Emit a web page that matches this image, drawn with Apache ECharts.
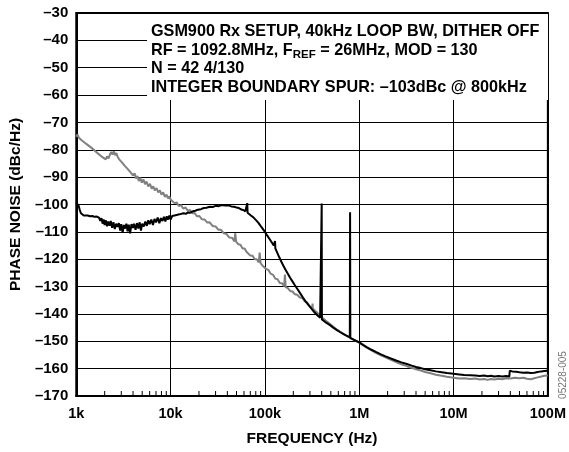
<!DOCTYPE html>
<html>
<head>
<meta charset="utf-8">
<script src="https://cdn.jsdelivr.net/npm/echarts@6/dist/echarts.min.js"></script>
<style>
html,body{margin:0;padding:0;background:#fff;}
#chart{width:569px;height:452px;}
</style>
</head>
<body>
<div id="chart"></div>
<script>
// ---- data ----
const xTickValues = [1e3, 1e4, 1e5, 1e6, 1e7, 1e8];
const xTickLabels = ['1k', '10k', '100k', '1M', '10M', '100M'];
const yMin = -170, yMax = -30, yStep = 10;
const minorTicks = [
  2e3,3e3,4e3,5e3,6e3,7e3,8e3,9e3,
  2e4,3e4,4e4,5e4,6e4,7e4,8e4,9e4,
  2e5,3e5,4e5,5e5,6e5,7e5,8e5,9e5,
  2e6,3e6,4e6,5e6,6e6,7e6,8e6,9e6,
  2e7,3e7,4e7,5e7,6e7,7e7,8e7,9e7
];

const greyFreq = [1000,1030,1060,1100,1140,1180,1230,1280,1330,1390,1450,1510,1580,1650,1720,1800,1880,1960,2050,2120,2200,2280,2350,2420,2500,2580,2660,2750,2850,2950,3050,3150,3250,3380,3500,3620,3750,3880,4000,4150,4300,4450,4600,4780,4950,5150,5350,5550,5800,6050,6300,6550,6800,7100,7400,7700,8000,8350,8700,9050,9400,9700,10000,10500,11000,11600,12200,12900,13600,14400,15200,16100,17000,18000,19000,20200,21500,23000,24500,26000,28000,30000,32000,34000,36500,39000,42000,45000,47500,48500,49500,52000,55000,58000,61000,64000,67000,70000,74000,78000,82000,86000,88000,90000,94000,98000,103000,109000,115000,122000,129000,136000,144000,152000,160000,163000,166000,175000,185000,196000,208000,220000,235000,250000,265000,280000,300000,318000,320000,322000,340000,360000,385000,410000,440000,480000,520000,570000,620000,680000,740000,800000,870000,940000,1000000,1100000,1200000,1350000,1500000,1700000,1900000,2200000,2500000,2800000,3200000,3600000,4000000,4500000,5000000,5700000,6500000,7500000,8500000,10000000,11500000,13000000,15000000,17000000,19000000,21000000,23000000,25000000,27000000,30000000,33000000,36000000,40000000,45000000,50000000,55000000,60000000,66000000,72000000,78000000,85000000,92000000,100000000];
const greyDb = [-75.2,-74.4,-75.5,-75,-76.5,-76,-77.4,-77,-78.3,-78,-79.3,-79,-80.4,-80.2,-81.5,-81.3,-82.6,-82.2,-83.5,-82.4,-83.2,-81.6,-80.8,-81.8,-80.6,-82,-81.2,-82.6,-83.5,-83,-84.6,-84.2,-85.8,-85.5,-87,-86.6,-88.2,-87.8,-89.4,-88.6,-90.5,-89.6,-91.4,-90.2,-92,-90.8,-92.6,-91.6,-93.4,-92.4,-94.2,-93.4,-94.8,-94,-95.6,-94.8,-96.4,-95.6,-97.2,-96.4,-97.8,-97,-98.2,-98.1,-99.5,-99.2,-100.6,-100.2,-101.5,-101.1,-102.3,-102,-103.2,-103.1,-104.3,-104.2,-105.4,-105.5,-106.6,-106.5,-107.9,-108,-109.2,-109.2,-110.5,-110.7,-112.1,-112.2,-113.5,-110.5,-113.6,-114.5,-114.7,-116.1,-116.1,-117.4,-117.4,-118.6,-118.7,-120,-120,-121.2,-117.6,-121.4,-122.3,-122.4,-123.6,-123.9,-125.3,-125.7,-127.1,-127.3,-128.7,-128.8,-129.8,-125.6,-130.2,-130.6,-131.6,-131.8,-132.8,-133,-134,-134.2,-135.4,-135.8,-137.2,-137.8,-136.2,-138,-138.8,-139.6,-140.6,-141.5,-142.4,-143.4,-144.4,-145.5,-146.4,-147.3,-148,-148.7,-149.4,-150,-150.5,-151.5,-152.3,-153.3,-154.2,-155.1,-155.9,-156.9,-157.7,-158.4,-159.1,-159.7,-160.2,-160.7,-161.2,-161.7,-162.2,-162.6,-163,-163.3,-163.6,-163.5,-163.8,-163.6,-164,-163.8,-164.1,-163.8,-164,-163.7,-163.9,-163.5,-163.6,-163.3,-163.5,-163.3,-163.7,-163.9,-163.5,-163.2,-162.9,-162.6,-162.5];

const blackFreq = [1000,1030,1060,1090,1120,1160,1200,1260,1320,1400,1480,1560,1650,1740,1800,1850,1900,1950,2000,2060,2120,2180,2250,2320,2400,2480,2560,2650,2740,2830,2920,3000,3100,3200,3300,3400,3500,3600,3720,3850,3980,4100,4250,4400,4550,4700,4850,5000,5200,5400,5600,5800,6000,6250,6500,6750,7000,7300,7600,7900,8200,8500,8800,9100,9400,9700,10000,10400,10800,11300,11800,12400,13000,13700,14500,15300,16200,17200,18300,19500,21000,22500,24000,26000,28000,30000,32500,35000,38000,41000,44000,47000,50000,53000,56000,59000,62000,64500,65000,65500,68000,71000,75000,80000,85000,90000,95000,100000,106000,112000,118000,124000,127000,128000,129000,135000,142000,150000,158000,166000,175000,185000,195000,208000,222000,237000,253000,270000,290000,310000,335000,360000,385000,398000,400000,402000,420000,450000,490000,530000,580000,630000,690000,740000,795000,800000,805000,850000,920000,1000000,1100000,1200000,1350000,1500000,1700000,1900000,2200000,2500000,2800000,3200000,3600000,4000000,4500000,5000000,5700000,6500000,7500000,8500000,10000000,11500000,13000000,15000000,17000000,19000000,21000000,23000000,25000000,27000000,30000000,33000000,36000000,39000000,39500000,42000000,46000000,50000000,55000000,60000000,66000000,72000000,78000000,85000000,92000000,100000000];
const blackDb = [-99.3,-99.8,-100.5,-102,-103.2,-103.8,-104,-104.1,-104,-104.3,-104.2,-104.5,-104.4,-104.8,-106,-105,-107,-105.5,-107.5,-105.8,-108,-106.2,-107.8,-106,-108.5,-106.5,-109,-107,-108.2,-106.8,-109.5,-107.2,-110.3,-107.5,-108.8,-107,-109.8,-107.4,-110.5,-107.2,-108.6,-107,-109.2,-106.8,-108.8,-106.5,-109.5,-107,-108,-106.2,-107.8,-105.8,-107.2,-105.5,-107.5,-105.3,-106.5,-104.8,-106.8,-105,-106,-104.5,-106.2,-104.3,-105.5,-104,-105.5,-104.2,-104.8,-103.9,-104.3,-103.6,-103.8,-103.2,-103.4,-102.9,-103,-102.5,-102.3,-101.9,-101.7,-101.3,-101.2,-100.8,-100.9,-100.5,-100.6,-100.2,-100.4,-100.3,-100.7,-100.8,-101.1,-101.3,-101.8,-102,-102.5,-102.8,-99.5,-103,-103.3,-104,-104.6,-105.6,-106.6,-107.8,-108.9,-110,-111.4,-112.6,-113.8,-115,-115.6,-113.4,-116,-117.6,-119.3,-121,-122.6,-123.9,-125.3,-126.8,-128,-129.5,-131,-132.5,-134,-135.4,-136.8,-138,-139.4,-140.5,-141.4,-141.8,-99.6,-142,-142.5,-143.3,-144.1,-145,-145.9,-146.7,-147.5,-148,-148.6,-102.8,-148.8,-149.2,-149.8,-150.4,-151.3,-152.1,-153.1,-153.9,-154.8,-155.5,-156.4,-157.1,-157.7,-158.3,-158.9,-159.4,-159.8,-160.2,-160.6,-161,-161.3,-161.6,-161.9,-162.1,-162.3,-162.4,-162.5,-162.7,-162.5,-162.8,-162.6,-162.9,-162.7,-162.9,-162.7,-162.9,-160.8,-161,-161.1,-161.3,-161.5,-161.4,-161.6,-161.5,-161.2,-161,-160.9,-160.8];

const noteLines = [
  'GSM900 Rx SETUP, 40kHz LOOP BW, DITHER OFF',
  ['RF = 1092.8MHz, F', 'REF', ' = 26MHz, MOD = 130'],
  'N = 42 4/130',
  'INTEGER BOUNDARY SPUR: \u2013103dBc @ 800kHz'
];
const xTitle = 'FREQUENCY (Hz)';
const yTitle = 'PHASE NOISE (dBc/Hz)';
const figId = '05228-005';

// ---- layout ----
const FONT = '"Liberation Sans", Arial, Helvetica, sans-serif';
const G = {left: 70, top: 13, width: 479, height: 384};

function measure(text, size) {
  const c = document.createElement('canvas').getContext('2d');
  c.font = 'bold ' + size + 'px ' + FONT;
  return c.measureText(text).width;
}

const NOTE_SIZE = 16.2, SUB_SIZE = 11.5;
const noteX = 151, noteY = [31.5, 50.5, 69, 88];
const noteGraphics = [{
  type: 'rect', z: 50,
  shape: {x: 147, y: G.top + 1, width: G.left + G.width - 148, height: 100 - G.top - 1},
  style: {fill: '#fff'}
}];
noteLines.forEach((ln, i) => {
  const base = {fontFamily: FONT, fontWeight: 'bold', fill: '#000', verticalAlign: 'middle', align: 'left'};
  if (Array.isArray(ln)) {
    const w0 = measure(ln[0], NOTE_SIZE);
    const w1 = measure(ln[1], SUB_SIZE);
    noteGraphics.push({type: 'text', z: 51, x: noteX, y: noteY[i], style: Object.assign({text: ln[0], fontSize: NOTE_SIZE}, base)});
    noteGraphics.push({type: 'text', z: 51, x: noteX + w0, y: noteY[i] + 4, style: Object.assign({text: ln[1], fontSize: SUB_SIZE}, base)});
    noteGraphics.push({type: 'text', z: 51, x: noteX + w0 + w1, y: noteY[i], style: Object.assign({text: ln[2], fontSize: NOTE_SIZE}, base)});
  } else {
    noteGraphics.push({type: 'text', z: 51, x: noteX, y: noteY[i], style: Object.assign({text: ln, fontSize: NOTE_SIZE}, base)});
  }
});
noteGraphics.push({
  type: 'text', z: 51, x: 563, y: 375, rotation: Math.PI / 2,
  style: {text: figId, fontFamily: FONT, fontSize: 10, fill: '#777', align: 'center', verticalAlign: 'middle'}
});

const chart = echarts.init(document.getElementById('chart'), null, {renderer: 'canvas'});
chart.setOption({
  animation: false,
  backgroundColor: '#fff',
  grid: Object.assign({show: true, borderColor: '#000', borderWidth: 2, backgroundColor: 'transparent'}, G),
  xAxis: {
    type: 'log', logBase: 10, min: xTickValues[0], max: xTickValues[xTickValues.length - 1],
    axisLine: {show: true, lineStyle: {color: '#000', width: 2}},
    axisTick: {show: false},
    splitLine: {show: true, lineStyle: {color: '#000', width: 1}},
    axisLabel: {
      color: '#000', fontFamily: FONT, fontWeight: 'bold', fontSize: 14.5, margin: 10,
      showMinLabel: true, showMaxLabel: true,
      formatter: v => xTickLabels[xTickValues.findIndex(t => Math.abs(Math.log10(t) - Math.log10(v)) < 1e-6)] || ''
    },
    name: xTitle, nameLocation: 'middle', nameGap: 35,
    nameTextStyle: {color: '#000', fontFamily: FONT, fontWeight: 'bold', fontSize: 15.5}
  },
  yAxis: {
    type: 'value', min: yMin, max: yMax, interval: yStep,
    axisLine: {show: true, lineStyle: {color: '#000', width: 2}},
    axisTick: {show: false},
    splitLine: {show: true, lineStyle: {color: '#000', width: 1}},
    axisLabel: {
      color: '#000', fontFamily: FONT, fontWeight: 'bold', fontSize: 15, margin: 8,
      formatter: v => (v < 0 ? '\u2013' : '') + Math.abs(v)
    },
    name: yTitle, nameLocation: 'middle', nameGap: 47, nameRotate: 90,
    nameTextStyle: {color: '#000', fontFamily: FONT, fontWeight: 'bold', fontSize: 15.5}
  },
  graphic: noteGraphics,
  series: [
    {
      type: 'custom', name: 'minor', z: 3, silent: true,
      data: minorTicks.map(f => [f, yMin]),
      renderItem: (params, api) => {
        const p = api.coord([api.value(0), api.value(1)]);
        return {type: 'line', shape: {x1: p[0], y1: p[1], x2: p[0], y2: p[1] - 5}, style: {stroke: '#000', lineWidth: 1}};
      }
    },
    {
      type: 'line', name: 'grey', showSymbol: false, z: 4, silent: true,
      data: greyFreq.map((f, i) => [f, greyDb[i]]),
      lineStyle: {color: '#808080', width: 2}
    },
    {
      type: 'line', name: 'black', showSymbol: false, z: 5, silent: true,
      data: blackFreq.map((f, i) => [f, blackDb[i]]),
      lineStyle: {color: '#000', width: 2}
    }
  ]
});
</script>
</body>
</html>
